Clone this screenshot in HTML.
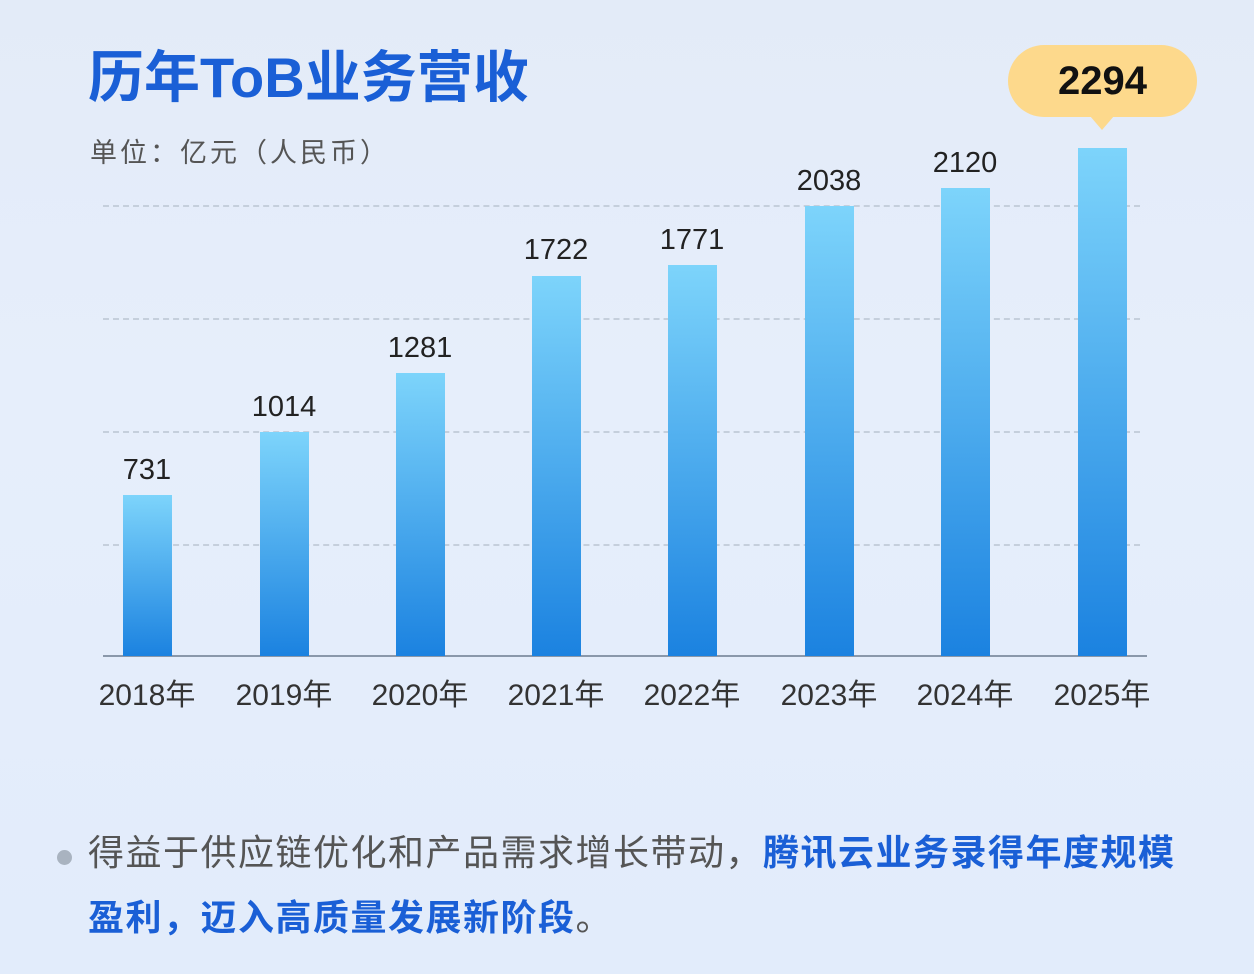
<!DOCTYPE html>
<html><head><meta charset="utf-8"><style>
body{margin:0;width:1254px;height:974px;overflow:hidden;background:linear-gradient(#e3ebf8,#e6eefb 40%,#e2ecfb);font-family:"Liberation Sans","Noto Sans CJK SC",sans-serif;position:relative}
.abs{position:absolute;white-space:nowrap}
.bar{position:absolute;width:49px;background:linear-gradient(#7dd4fb,#1b82e0)}
.v{position:absolute;width:120px;text-align:center;font-size:29px;color:#222;line-height:1}
.y{position:absolute;width:136px;text-align:center;font-size:30px;color:#333;top:681px;line-height:1}
.g{position:absolute;left:103px;width:1037px;border-top:2px dashed #c5cfdc}
</style></head><body>
<div class="abs" style="left:88px;top:47px;font-size:56px;font-weight:bold;color:#1a5fd6;line-height:1.1">历年ToB业务营收</div>
<div class="abs" style="left:90px;top:131px;font-size:27px;letter-spacing:3px;color:#555">单位：亿元（人民币）</div>
<div class="g" style="top:205px"></div><div class="g" style="top:318px"></div><div class="g" style="top:431px"></div><div class="g" style="top:544px"></div>
<div class="abs" style="left:103px;top:655px;width:1044px;height:2px;background:#8a98aa"></div>
<div class="bar" style="left:123px;top:495px;height:161px"></div>
<div class="bar" style="left:260px;top:432px;height:224px"></div>
<div class="bar" style="left:396px;top:373px;height:283px"></div>
<div class="bar" style="left:532px;top:276px;height:380px"></div>
<div class="bar" style="left:668px;top:265px;height:391px"></div>
<div class="bar" style="left:805px;top:206px;height:450px"></div>
<div class="bar" style="left:941px;top:188px;height:468px"></div>
<div class="bar" style="left:1078px;top:148px;height:508px"></div>
<div class="v" style="left:87px;top:456px">731</div>
<div class="v" style="left:224px;top:393px">1014</div>
<div class="v" style="left:360px;top:334px">1281</div>
<div class="v" style="left:496px;top:236px">1722</div>
<div class="v" style="left:632px;top:226px">1771</div>
<div class="v" style="left:769px;top:167px">2038</div>
<div class="v" style="left:905px;top:149px">2120</div>
<div class="abs" style="left:1008px;top:45px;width:189px;height:72px;border-radius:36px;background:#fdd98c;text-align:center;line-height:72px;font-size:40px;font-weight:bold;color:#111">2294</div>
<div class="abs" style="left:1090px;top:116px;width:0;height:0;border-left:12px solid transparent;border-right:12px solid transparent;border-top:14px solid #fdd98c"></div>
<div class="y" style="left:79px">2018年</div>
<div class="y" style="left:216px">2019年</div>
<div class="y" style="left:352px">2020年</div>
<div class="y" style="left:488px">2021年</div>
<div class="y" style="left:624px">2022年</div>
<div class="y" style="left:761px">2023年</div>
<div class="y" style="left:897px">2024年</div>
<div class="y" style="left:1034px">2025年</div>
<div class="abs" style="left:57px;top:850px;width:15px;height:15px;border-radius:50%;background:#a9b3c0"></div>
<div class="abs" style="left:88px;top:832px;font-size:36px;letter-spacing:1.5px;color:#555;line-height:42px">得益于供应链优化和产品需求增长带动，<b style="color:#1a5fd6">腾讯云业务录得年度规模</b></div>
<div class="abs" style="left:88px;top:897px;font-size:36px;letter-spacing:1.5px;color:#1a5fd6;font-weight:bold;line-height:42px">盈利，迈入高质量发展新阶段<span style="font-weight:normal;color:#555">。</span></div>
</body></html>
